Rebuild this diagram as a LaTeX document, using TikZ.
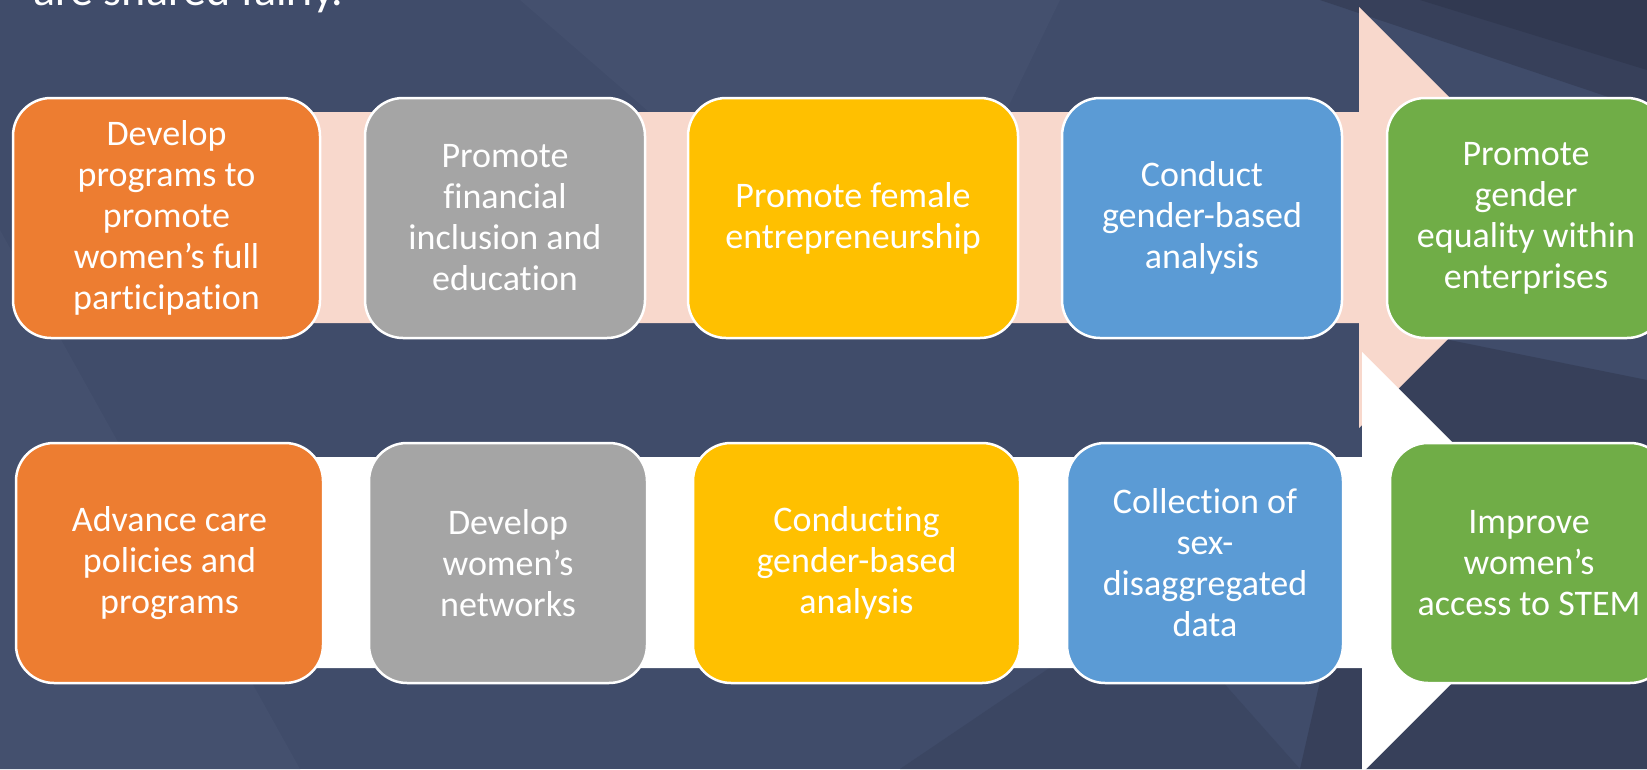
\documentclass[tikz,border=0pt]{standalone}
\usepackage{fontspec}
\setmainfont{Carlito}[Ligatures={NoCommon,NoRare,NoContextual}]
\definecolor{bgbase}{HTML}{404C6A}
\definecolor{bglight}{HTML}{44506E}
\definecolor{bgdark}{HTML}{37405A}
\definecolor{bgdarker}{HTML}{313951}
\definecolor{arrowpink}{HTML}{F8D8CC}
\definecolor{borange}{HTML}{ED7D31}
\definecolor{bgray}{HTML}{A5A5A5}
\definecolor{byellow}{HTML}{FFC000}
\definecolor{bblue}{HTML}{5B9BD5}
\definecolor{bgreen}{HTML}{70AD47}
\begin{document}
\begin{tikzpicture}[x=1pt,y=-1pt,
  box/.style={draw=white, line width=2.5pt, rounded corners=38pt,
    minimum height=240pt, align=center, text=white, inner sep=0pt,
    font=\fontsize{36}{41}\selectfont}]
\useasboundingbox (0,0) rectangle (1647,769);
\clip (0,0) rectangle (1647,769);
% background
\fill[bgbase] (0,0) rectangle (1647,769);
\fill[bglight] (0,230) -- (0,769) -- (300,769) -- cycle;
\fill[bglight] (520,0) -- (1060,0) -- (900,330) -- cycle;
\fill[bgdark] (1320,0) -- (1647,0) -- (1647,110) -- cycle;
\fill[bgdarker] (1420,0) -- (1647,0) -- (1647,70) -- cycle;
\fill[bgdark] (1400,330) -- (1647,380) -- (1647,769) -- (1300,769) -- cycle;
\fill[bgdark!50!bgbase] (900,769) -- (1150,600) -- (1300,769) -- cycle;
% top (pink) arrow
\fill[arrowpink] (40,112) -- (1359,112) -- (1359,7) -- (1570,217.5)
  -- (1359,428) -- (1359,323) -- (40,323) -- cycle;
% bottom (white) arrow
\fill[white] (40,457) -- (1362,457) -- (1362,352) -- (1572.5,562.5)
  -- (1362,773) -- (1362,668) -- (40,668) -- cycle;
% top row
\node[box, fill=borange, minimum width=307pt] (t1) at (166.5,218)
  {Develop\\programs to\\promote\\women’s full\\participation};
\node[box, fill=bgray, minimum width=280pt] (t2) at (505,218)
  {Promote\\financial\\inclusion and\\education};
\node[box, fill=byellow, minimum width=330pt] (t3) at (853,218)
  {Promote female\\entrepreneurship};
\node[box, fill=bblue, minimum width=280pt] (t4) at (1202,218)
  {Conduct\\gender-based\\analysis};
\node[box, fill=bgreen, minimum width=278pt] (t5) at (1526,218)
  {Promote\\gender\\equality within\\enterprises};
% bottom row
\node[box, fill=borange, minimum width=307pt] (b1) at (169.5,563)
  {Advance care\\policies and\\programs};
\node[box, fill=bgray, minimum width=278pt] (b2) at (508,563)
  {Develop\\women’s\\networks};
\node[box, fill=byellow, minimum width=327pt] (b3) at (856.5,563)
  {Conducting\\gender-based\\analysis};
\node[box, fill=bblue, minimum width=276pt] (b4) at (1205,563)
  {Collection of\\sex-\\disaggregated\\data};
\node[box, fill=bgreen, minimum width=278pt] (b5) at (1529,563)
  {Improve\\women’s\\access to STEM};
% partial heading text
\node[anchor=base west, text=white, inner sep=0pt,
  font=\fontsize{46}{50}\selectfont] (heading) at (33,5) {are shared fairly.};
\end{tikzpicture}
\end{document}
